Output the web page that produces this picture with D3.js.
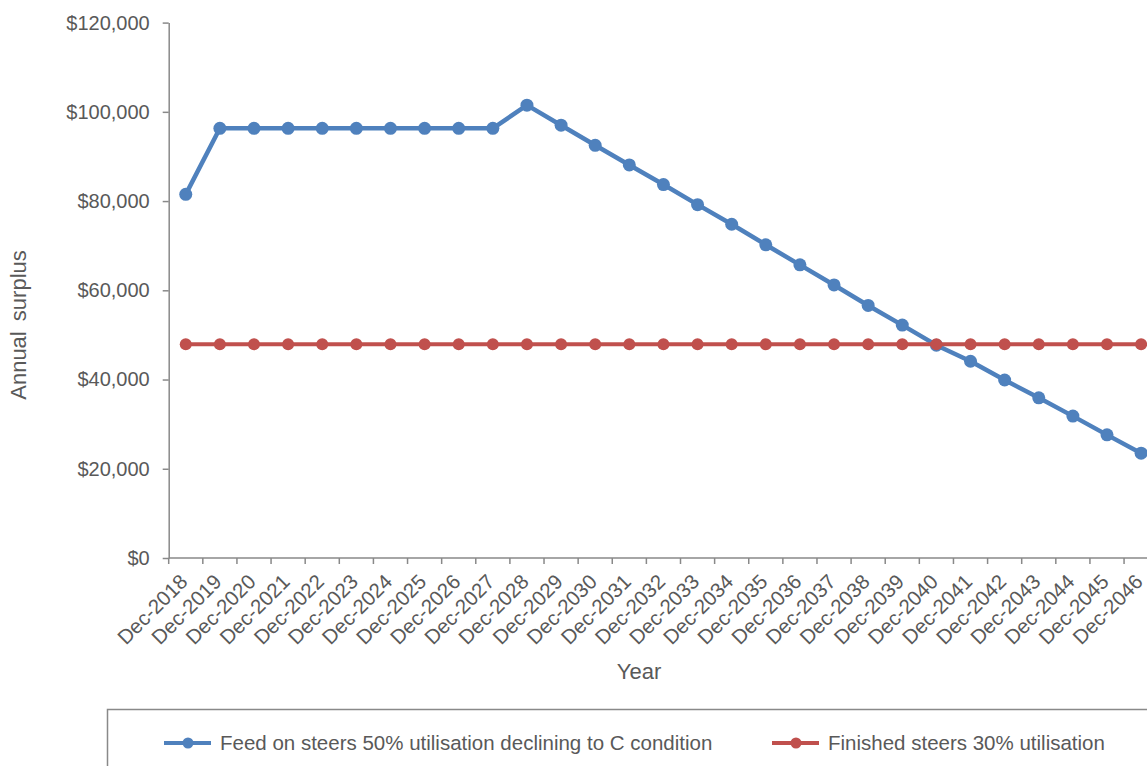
<!DOCTYPE html>
<html>
<head>
<meta charset="utf-8">
<script src="https://cdn.jsdelivr.net/npm/d3@7"></script>
<style>
  body { margin: 0; background: #fff; }
  svg { display: block; font-family: "Liberation Sans", Arial, sans-serif; }
  .tick text { fill: #595959; font-size: 20px; }
  .domain, .tick line { stroke: #898989; stroke-width: 1.5; }
</style>
</head>
<body>
<svg></svg>
<script>
// categories and series
const years = [
  "Dec-2018", "Dec-2019", "Dec-2020", "Dec-2021", "Dec-2022", "Dec-2023", "Dec-2024",
  "Dec-2025", "Dec-2026", "Dec-2027", "Dec-2028", "Dec-2029", "Dec-2030", "Dec-2031",
  "Dec-2032", "Dec-2033", "Dec-2034", "Dec-2035", "Dec-2036", "Dec-2037", "Dec-2038",
  "Dec-2039", "Dec-2040", "Dec-2041", "Dec-2042", "Dec-2043", "Dec-2044", "Dec-2045",
  "Dec-2046"
];
const feedOnSteers = [
  81500, 96300, 96300, 96300, 96300, 96300, 96300, 96300, 96300, 96300,
  101500, 97000, 92500, 88100, 83700, 79200, 74800, 70200, 65700, 61200,
  56600, 52200, 47700, 44100, 39900, 35900, 31800, 27600, 23500
];
const finishedSteers = [
  47900, 47900, 47900, 47900, 47900, 47900, 47900, 47900, 47900, 47900,
  47900, 47900, 47900, 47900, 47900, 47900, 47900, 47900, 47900, 47900,
  47900, 47900, 47900, 47900, 47900, 47900, 47900, 47900, 47900
];
const yTicks = [0, 20000, 40000, 60000, 80000, 100000, 120000];
const seriesNames = ["Feed on steers 50% utilisation declining to C condition", "Finished steers 30% utilisation"];

window.onload = () => {
    let width = 1147, height = 766;
    let svg = d3.select("svg").attr("width", width).attr("height", height);

    let left = 168.7, top = 22.6, bottom = 558;
    let bandW = 34.12;

    let x = d3.scaleBand()
        .domain(years)
        .range([left, left + bandW * years.length])
        .padding(0);
    let y = d3.scaleLinear()
        .domain([0, 120000])
        .range([bottom, top]);

    // y axis
    svg.append("g")
        .attr("transform", "translate(" + left + ",0)")
        .call(d3.axisLeft(y)
            .tickValues(yTicks)
            .tickSize(6)
            .tickSizeOuter(0)
            .tickPadding(13)
            .tickFormat(d => "$" + d3.format(",")(d)));

    // x axis: ticks on category boundaries, labels rotated
    let xAxis = svg.append("g")
        .attr("transform", "translate(0," + bottom + ")")
        .call(d3.axisBottom(x).tickSize(0).tickSizeOuter(0).tickFormat(""));
    xAxis.select(".domain").attr("d", "M" + left + ",0H" + width);
    xAxis.selectAll(".bound")
        .data(years)
        .enter()
        .append("line")
            .attr("class", "bound")
            .attr("x1", d => x(d))
            .attr("x2", d => x(d))
            .attr("y1", 0)
            .attr("y2", 6)
            .attr("stroke", "#898989")
            .attr("stroke-width", 1.5);
    xAxis.selectAll(".lbl")
        .data(years)
        .enter()
        .append("text")
            .attr("class", "lbl")
            .attr("transform", d => "translate(" + (x(d) + x.bandwidth() / 2 + 3) + ",25) rotate(-45)")
            .attr("text-anchor", "end")
            .attr("fill", "#595959")
            .style("font-size", "20.5px")
            .text(d => d);

    // axis titles
    svg.append("text")
        .attr("x", 639)
        .attr("y", 679)
        .attr("text-anchor", "middle")
        .attr("fill", "#595959")
        .style("font-size", "22px")
        .text("Year");
    svg.append("text")
        .attr("transform", "translate(26,325) rotate(-90)")
        .attr("text-anchor", "middle")
        .attr("fill", "#595959")
        .style("font-size", "22px")
        .style("word-spacing", "4px")
        .text("Annual surplus");

    let line = d3.line()
        .x((d, i) => x(years[i]) + x.bandwidth() / 2)
        .y(d => y(d));

    let series = [
        { name: seriesNames[0], values: feedOnSteers, color: "#4F81BD", w: 4.5, r: 6.5 },
        { name: seriesNames[1], values: finishedSteers, color: "#C0504D", w: 4, r: 6 }
    ];

    series.forEach(s => {
        let g = svg.append("g");
        g.append("path")
            .datum(s.values)
            .attr("d", line)
            .attr("fill", "none")
            .attr("stroke", s.color)
            .attr("stroke-width", s.w)
            .attr("stroke-linejoin", "round");
        g.selectAll("circle")
            .data(s.values)
            .enter()
            .append("circle")
                .attr("cx", (d, i) => x(years[i]) + x.bandwidth() / 2)
                .attr("cy", d => y(d))
                .attr("r", s.r)
                .attr("fill", s.color);
    });

    // legend
    svg.append("rect")
        .attr("x", 107.5)
        .attr("y", 709.5)
        .attr("width", 1200)
        .attr("height", 120)
        .attr("fill", "none")
        .attr("stroke", "#898989")
        .attr("stroke-width", 1.5);

    let legendX = [164, 772];
    series.forEach((s, i) => {
        let g = svg.append("g").attr("transform", "translate(" + legendX[i] + ",743)");
        g.append("line")
            .attr("x1", 0).attr("x2", 47)
            .attr("stroke", s.color)
            .attr("stroke-width", 4);
        g.append("circle")
            .attr("cx", 24).attr("r", 5.5)
            .attr("fill", s.color);
        g.append("text")
            .attr("x", 56)
            .attr("dy", "0.35em")
            .attr("fill", "#595959")
            .style("font-size", "20.5px")
            .text(s.name);
    });
};
</script>
</body>
</html>
